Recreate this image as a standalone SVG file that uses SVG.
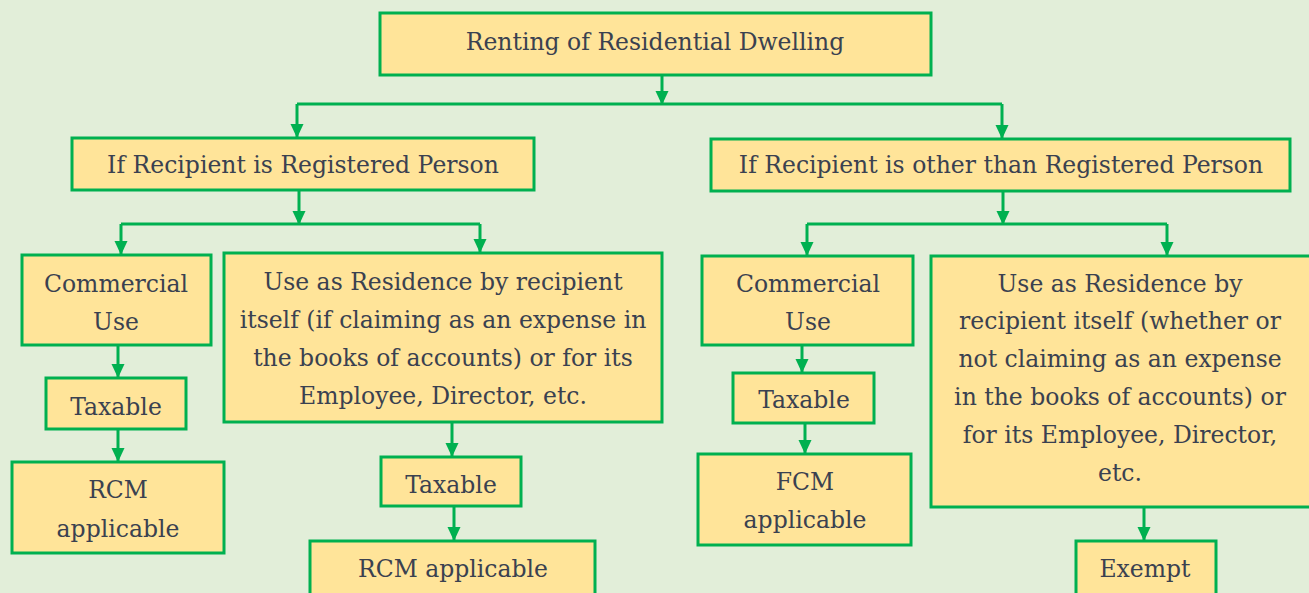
<svg xmlns="http://www.w3.org/2000/svg" width="1309" height="593" viewBox="0 0 1309 593">
<defs>
<style>
.box{fill:#FFE499;stroke:#00B050;stroke-width:3}
.t{font-family:"DejaVu Serif","Liberation Serif",serif;font-size:23.5px;fill:#3A4150;text-anchor:middle}
.c{fill:none;stroke:#00B050;stroke-width:3}
</style>
<marker id="ah" markerUnits="userSpaceOnUse" markerWidth="14" markerHeight="15" viewBox="0 0 15 14" refX="14" refY="7" orient="auto">
<path d="M0,0 L15,7 L0,14 z" fill="#00B050"/>
</marker>
</defs>
<rect width="1309" height="593" fill="#E2EED9"/>
<g id="connectors">
<path class="c" d="M662 75 V104" marker-end="url(#ah)"/>
<path class="c" d="M297 104 H1002"/>
<path class="c" d="M297 104 V137" marker-end="url(#ah)"/>
<path class="c" d="M1002 104 V138" marker-end="url(#ah)"/>
<path class="c" d="M299 190 V224" marker-end="url(#ah)"/>
<path class="c" d="M121 224 H480"/>
<path class="c" d="M121 224 V254" marker-end="url(#ah)"/>
<path class="c" d="M480 224 V252" marker-end="url(#ah)"/>
<path class="c" d="M1003 191 V224" marker-end="url(#ah)"/>
<path class="c" d="M807 224 H1167"/>
<path class="c" d="M807 224 V255" marker-end="url(#ah)"/>
<path class="c" d="M1167 224 V255" marker-end="url(#ah)"/>
<path class="c" d="M118 345 V377" marker-end="url(#ah)"/>
<path class="c" d="M118 429 V461" marker-end="url(#ah)"/>
<path class="c" d="M452 422 V456" marker-end="url(#ah)"/>
<path class="c" d="M454 506 V540" marker-end="url(#ah)"/>
<path class="c" d="M802 345 V372" marker-end="url(#ah)"/>
<path class="c" d="M805 423 V453" marker-end="url(#ah)"/>
<path class="c" d="M1144 507 V540" marker-end="url(#ah)"/>
</g>
<g id="n-top"><rect class="box" x="380" y="13" width="551" height="62"/><text class="t" x="655" y="50">Renting of Residential Dwelling</text></g>
<g id="n-reg"><rect class="box" x="72" y="138" width="462" height="52"/><text class="t" x="303" y="173">If Recipient is Registered Person</text></g>
<g id="n-other"><rect class="box" x="711" y="139" width="579" height="52"/><text class="t" x="1001" y="173">If Recipient is other than Registered Person</text></g>
<g id="n-cu-left"><rect class="box" x="22" y="255" width="189" height="90"/><text class="t" x="116" y="292">Commercial</text><text class="t" x="116" y="330">Use</text></g>
<g id="n-res-left"><rect class="box" x="224" y="253" width="438" height="169"/>
<text class="t" x="443" y="290">Use as Residence by recipient</text>
<text class="t" x="443" y="328">itself (if claiming as an expense in</text>
<text class="t" x="443" y="366">the books of accounts) or for its</text>
<text class="t" x="443" y="404">Employee, Director, etc.</text></g>
<g id="n-tax-left"><rect class="box" x="46" y="378" width="140" height="51"/><text class="t" x="116" y="415">Taxable</text></g>
<g id="n-rcm-left"><rect class="box" x="12" y="462" width="212" height="91"/><text class="t" x="118" y="498">RCM</text><text class="t" x="118" y="537">applicable</text></g>
<g id="n-tax-mid"><rect class="box" x="381" y="457" width="140" height="49"/><text class="t" x="451" y="493">Taxable</text></g>
<g id="n-rcm-mid"><rect class="box" x="310" y="541" width="285" height="60"/><text class="t" x="453" y="577">RCM applicable</text></g>
<g id="n-cu-right"><rect class="box" x="702" y="256" width="211" height="89"/><text class="t" x="808" y="292">Commercial</text><text class="t" x="808" y="330">Use</text></g>
<g id="n-tax-right"><rect class="box" x="733" y="373" width="141" height="50"/><text class="t" x="804" y="408">Taxable</text></g>
<g id="n-fcm"><rect class="box" x="698" y="454" width="213" height="91"/><text class="t" x="805" y="490">FCM</text><text class="t" x="805" y="528">applicable</text></g>
<g id="n-res-right"><rect class="box" x="931" y="256" width="400" height="251"/>
<text class="t" x="1120" y="292">Use as Residence by</text>
<text class="t" x="1120" y="329">recipient itself (whether or</text>
<text class="t" x="1120" y="367">not claiming as an expense</text>
<text class="t" x="1120" y="405">in the books of accounts) or</text>
<text class="t" x="1120" y="443">for its Employee, Director,</text>
<text class="t" x="1120" y="481">etc.</text></g>
<g id="n-exempt"><rect class="box" x="1076" y="541" width="140" height="60"/><text class="t" x="1145" y="577">Exempt</text></g>
</svg>
